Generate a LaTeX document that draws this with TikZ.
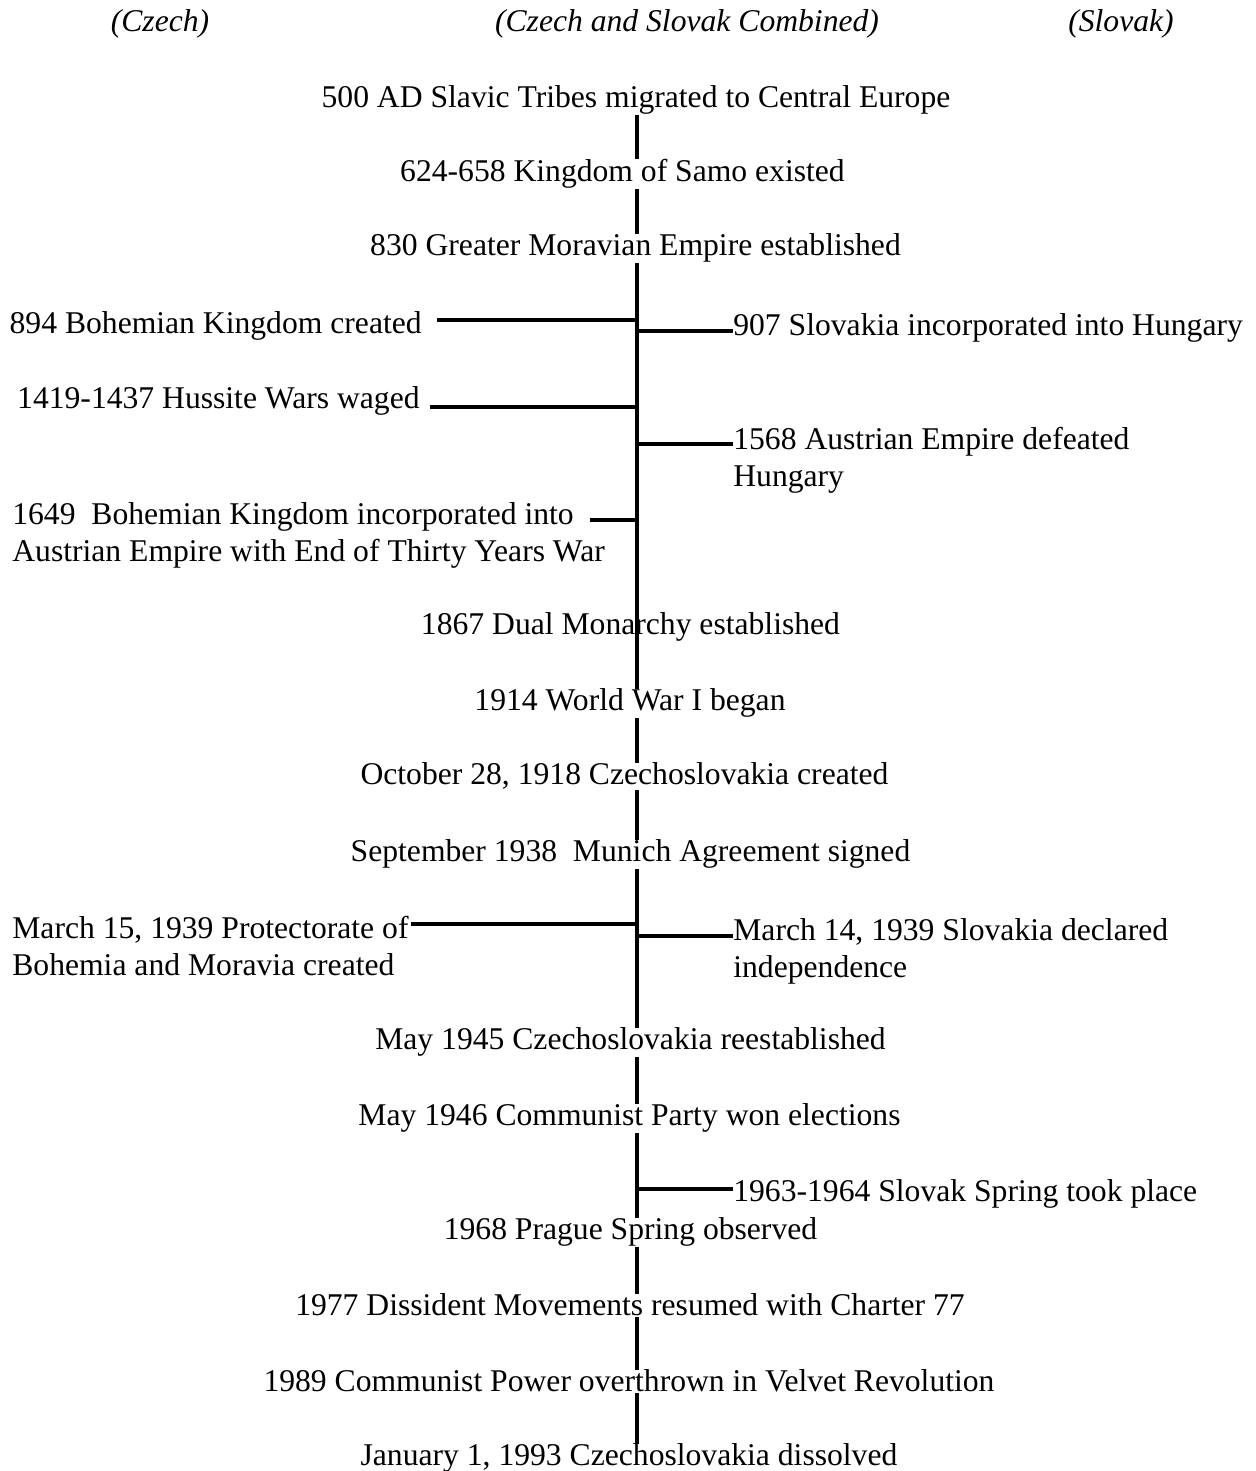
\documentclass[tikz,border=0pt]{standalone}
\usepackage{fontspec}
\setmainfont{Liberation Serif}
\usetikzlibrary{positioning}

\begin{document}
\begin{tikzpicture}[
  every node/.style={font=\fontsize{18}{21.6}\selectfont,inner sep=0pt,align=left},
  evt/.style={anchor=base},
  hdr/.style={anchor=base,font=\fontsize{18}{21.6}\selectfont\itshape},
  spine/.style={line width=2.3pt},
  branch/.style={line width=2.3pt}
]
  \useasboundingbox (0,0) rectangle (25.10,29.42);
  \coordinate (sp) at (12.74,0);

  % column headings
  \node[hdr] (hczech) at (3.20,28.78) {(Czech)};
  \node[hdr] (hboth) at (13.74,28.78) {(Czech and Slovak Combined)};
  \node[hdr] (hslovak) at (22.42,28.78) {(Slovak)};

  % shared events on the spine
  \node[evt] (ev500) at (12.72,27.26) {500 AD Slavic Tribes migrated to Central Europe};
  \node[evt] (ev624) at (12.45,25.78) {624-658 Kingdom of Samo existed};
  \node[evt] (ev830) at (12.71,24.30) {830 Greater Moravian Empire established};
  \node[evt] (ev1867) at (12.61,16.72) {1867 Dual Monarchy established};
  \node[evt] (ev1914) at (12.60,15.20) {1914 World War I began};
  \node[evt] (ev1918) at (12.49,13.72) {October 28, 1918 Czechoslovakia created};
  \node[evt] (ev1938) at (12.61,12.18) {September 1938\ \ Munich Agreement signed};
  \node[evt] (ev1945) at (12.61,8.42) {May 1945 Czechoslovakia reestablished};
  \node[evt] (ev1946) at (12.59,6.90) {May 1946 Communist Party won elections};
  \node[evt] (ev1968) at (12.61,4.62) {1968 Prague Spring observed};
  \node[evt] (ev1977) at (12.60,3.10) {1977 Dissident Movements resumed with Charter 77};
  \node[evt] (ev1989) at (12.58,1.58) {1989 Communist Power overthrown in Velvet Revolution};
  \node[evt] (ev1993) at (12.58,0.10) {January 1, 1993 Czechoslovakia dissolved};

  \foreach \a/\b in {ev500/ev624,ev624/ev830,ev830/ev1914,ev1914/ev1918,
                     ev1918/ev1938,ev1938/ev1945,ev1945/ev1946,ev1946/ev1968,
                     ev1968/ev1977,ev1977/ev1989,ev1989/ev1993}
    \draw[spine] (\a.south -| sp) -- (\b.north -| sp);

  % Czech side
  \node[anchor=base east] (c894) at (8.44,22.74) {894 Bohemian Kingdom created};
  \node[anchor=base east] (c1419) at (8.40,21.24) {1419-1437 Hussite Wars waged};
  \node[anchor=base west] (c1649) at (0.24,18.18)
    {1649\ \ Bohemian Kingdom incorporated into\\Austrian Empire with End of Thirty Years War};
  \node[anchor=base west] (c1939) at (0.24,9.90)
    {March 15, 1939 Protectorate of\\Bohemia and Moravia created};
  \coordinate (j894) at (12.74,23.02);
  \coordinate (j1419) at (12.74,21.28);
  \coordinate (j1649) at (12.74,19.02);
  \coordinate (e1649) at (11.80,19.02);
  \coordinate (j1939c) at (12.74,10.94);
  \draw[branch] ([xshift=3mm]c894.east |- j894) -- (j894);
  \draw[branch] ([xshift=2mm]c1419.east |- j1419) -- (j1419);
  \draw[branch] (e1649) -- (j1649);
  \draw[branch] ([xshift=0.5mm]c1939.east |- j1939c) -- (j1939c);

  % Slovak side
  \node[anchor=base west] (s907) at (14.66,22.70) {907 Slovakia incorporated into Hungary};
  \node[anchor=base west] (s1568) at (14.66,19.68) {1568 Austrian Empire defeated\\Hungary};
  \node[anchor=base west] (s1939) at (14.66,9.86) {March 14, 1939 Slovakia declared\\independence};
  \node[anchor=base west] (s1963) at (14.66,5.38) {1963-1964 Slovak Spring took place};
  \coordinate (j907) at (12.74,22.80);
  \coordinate (j1568) at (12.74,20.54);
  \coordinate (j1939s) at (12.74,10.70);
  \coordinate (j1963) at (12.74,5.64);
  \draw[branch] (j907) -- (s907.west |- j907);
  \draw[branch] (j1568) -- (s1568.west |- j1568);
  \draw[branch] (j1939s) -- (s1939.west |- j1939s);
  \draw[branch] (j1963) -- (s1963.west |- j1963);
\end{tikzpicture}
\end{document}
